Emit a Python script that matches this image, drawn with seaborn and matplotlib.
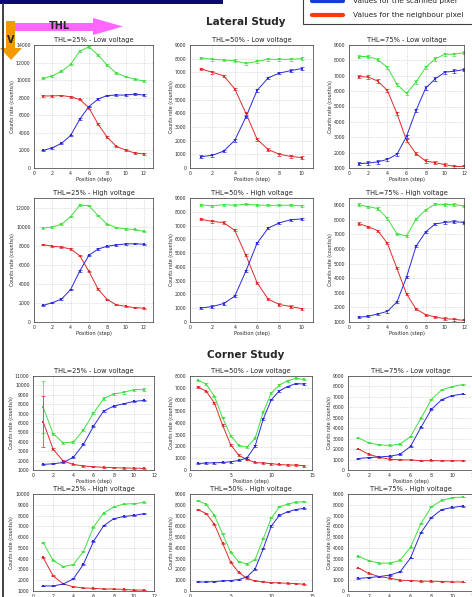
import numpy as np
import pandas as pd
import matplotlib.pyplot as plt
import seaborn as sns
from matplotlib.patches import Polygon, Rectangle
from matplotlib.lines import Line2D

# ---- data (counts/s) ----
lat25_low_g = [10200, 10500, 11000, 11800, 13300, 13800, 12850, 11700, 10800, 10400, 10100, 9900]
lat25_low_r = [8200, 8200, 8250, 8100, 7800, 6850, 5000, 3500, 2450, 2050, 1700, 1600]
lat25_low_b = [2000, 2300, 2800, 3700, 5550, 7000, 7850, 8250, 8300, 8300, 8400, 8300]

lat50_low_g = [8050, 7950, 7900, 7850, 7650, 7800, 7950, 7950, 7950, 8000]
lat50_low_r = [7250, 7000, 6750, 5800, 4000, 2100, 1350, 1000, 850, 760]
lat50_low_b = [830, 930, 1230, 2020, 3730, 5680, 6600, 6950, 7120, 7280]

lat75_low_g = [8250, 8250, 8050, 7550, 6450, 5850, 6600, 7550, 8100, 8400, 8400, 8500]
lat75_low_r = [6950, 6920, 6650, 6050, 4550, 2800, 1930, 1450, 1350, 1220, 1100, 1100]
lat75_low_b = [1280, 1320, 1400, 1560, 1890, 3050, 4750, 6200, 6800, 7230, 7300, 7400]

lat25_high_g = [9850, 9950, 10250, 11050, 12250, 12200, 11150, 10250, 9900, 9750, 9700, 9500]
lat25_high_r = [8100, 7950, 7850, 7650, 6950, 5300, 3450, 2350, 1800, 1650, 1500, 1450]
lat25_high_b = [1750, 2020, 2400, 3400, 5350, 7000, 7650, 7950, 8080, 8180, 8200, 8150]

lat50_high_g = [8500, 8420, 8520, 8470, 8550, 8480, 8470, 8470, 8480, 8430]
lat50_high_r = [7450, 7300, 7220, 6650, 4850, 2850, 1650, 1270, 1120, 970]
lat50_high_b = [1020, 1120, 1340, 1870, 3700, 5720, 6820, 7200, 7420, 7480]

lat75_high_g = [9050, 8900, 8780, 8100, 7050, 6900, 8050, 8680, 9080, 9050, 9050, 8950]
lat75_high_r = [7750, 7530, 7260, 6400, 4680, 2920, 1890, 1500, 1340, 1230, 1180, 1110]
lat75_high_b = [1320, 1390, 1550, 1730, 2370, 4070, 6200, 7180, 7720, 7830, 7880, 7820]

cor25_low_g = [7700, 4850, 3900, 3950, 5250, 7050, 8600, 9100, 9250, 9550, 9550]
cor25_low_r = [6150, 3200, 1950, 1600, 1420, 1350, 1280, 1250, 1210, 1200, 1170]
cor25_low_b = [1600, 1660, 1800, 2350, 3720, 5650, 7270, 7800, 8050, 8300, 8400]
cor25_low_err_g = [2800, 120, 120, 120, 120, 120, 120, 120, 120, 120, 150]
cor25_low_err_r = [2700, 100, 80, 60, 60, 60, 60, 60, 60, 60, 60]

cor50_low_g = [7630, 7300, 6270, 4460, 2920, 2090, 1950, 2700, 4930, 6550, 7240, 7600, 7800, 7710]
cor50_low_r = [7080, 6690, 5710, 3820, 2150, 1250, 890, 640, 590, 530, 470, 420, 420, 360]
cor50_low_b = [560, 590, 610, 640, 700, 810, 1030, 2030, 4320, 5990, 6740, 7100, 7350, 7320]

cor75_low_g = [3070, 2600, 2410, 2350, 2480, 3200, 4950, 6740, 7680, 7990, 8180]
cor75_low_r = [2010, 1500, 1220, 1030, 970, 970, 880, 910, 880, 880, 880]
cor75_low_b = [1100, 1190, 1250, 1320, 1500, 2260, 4080, 5800, 6740, 7120, 7270]

cor25_high_g = [5500, 3830, 3270, 3450, 4660, 6930, 8230, 8790, 9070, 9100, 9220]
cor25_high_r = [4110, 2400, 1650, 1400, 1280, 1250, 1190, 1190, 1150, 1090, 1090]
cor25_high_b = [1470, 1470, 1650, 2120, 3480, 5600, 7050, 7700, 7920, 8010, 8170]

cor50_high_g = [8380, 8030, 7030, 5310, 3590, 2720, 2500, 2910, 4840, 6780, 7810, 8060, 8250, 8280]
cor50_high_r = [7530, 7190, 6190, 4440, 2660, 1720, 1160, 940, 840, 780, 750, 720, 690, 620]
cor50_high_b = [840, 840, 870, 940, 970, 1060, 1310, 2030, 3910, 6030, 7030, 7340, 7560, 7660]

cor75_high_g = [3220, 2810, 2590, 2590, 2840, 4060, 6250, 7810, 8410, 8660, 8720]
cor75_high_r = [2130, 1630, 1340, 1190, 1000, 970, 910, 910, 880, 840, 840]
cor75_high_b = [1160, 1250, 1340, 1470, 1780, 3060, 5410, 6810, 7560, 7750, 7880]

GREEN = '#3fe03f'
RED = '#e02a2a'
BLUE = '#2a2ad8'
W, H = 472, 597

sns.set_style("whitegrid", {"grid.linestyle": ":", "grid.color": "#b0b0b0",
                            "axes.edgecolor": "#333333"})
plt.rcParams['font.family'] = ['DejaVu Sans']

fig = plt.figure(figsize=(W / 100, H / 100), dpi=100)


def px_axes(x0, y0, x1, y1):
    return fig.add_axes([x0 / W, 1 - y1 / H, (x1 - x0) / W, (y1 - y0) / H])


def panel(rect, title, g, r, b, xlim, xticks, ylim, yticks, err=60, err_g=None, err_r=None):
    ax = px_axes(*rect)
    n = len(g)
    pos = np.arange(1, n + 1)
    df = pd.DataFrame({'pos': np.tile(pos, 3),
                       'rate': list(g) + list(r) + list(b),
                       'series': ['sum'] * n + ['neighbour'] * n + ['scanned'] * n})
    pal = {'sum': GREEN, 'neighbour': RED, 'scanned': BLUE}
    sns.lineplot(data=df, x='pos', y='rate', hue='series', palette=pal, ax=ax,
                 legend=False, linewidth=0.7, marker='s', markersize=1.6,
                 markeredgewidth=0)
    eg = err if err_g is None else err_g
    er = err if err_r is None else err_r
    for ys, c, e in [(g, GREEN, eg), (r, RED, er), (b, BLUE, err)]:
        ax.errorbar(pos, ys, yerr=e, fmt='none', ecolor=c, elinewidth=0.5,
                    capsize=1.2, capthick=0.5)
    ax.set_xlim(*xlim)
    ax.set_ylim(*ylim)
    ax.set_xticks(xticks)
    ax.set_yticks(yticks)
    ax.tick_params(labelsize=3.3, length=1.5, pad=1, width=0.4)
    ax.grid(True, linewidth=0.4)
    for s in ax.spines.values():
        s.set_linewidth(0.5)
    ax.set_title(title, fontsize=4.8, pad=2)
    ax.set_xlabel('Position (step)', fontsize=3.6, labelpad=0.5)
    ax.set_ylabel('Counts rate (counts/s)', fontsize=3.4, labelpad=1)
    return ax


# lateral study
r1, r2 = (45, 168), (198, 322)
r3, r4 = (376, 470), (494, 591)
t12 = np.arange(0, 13, 2)
t10 = np.arange(0, 11, 2)

panel((34, r1[0], 153, r1[1]), 'THL=25% - Low voltage', lat25_low_g, lat25_low_r, lat25_low_b,
      (0, 13), t12, (0, 14000), np.arange(0, 14001, 2000), err=90)
panel((190, r1[0], 313, r1[1]), 'THL=50% - Low voltage', lat50_low_g, lat50_low_r, lat50_low_b,
      (0, 11), t10, (0, 9000), np.arange(0, 9001, 1000), err=90)
panel((349, r1[0], 464, r1[1]), 'THL=75% - Low voltage', lat75_low_g, lat75_low_r, lat75_low_b,
      (0, 12), t12, (1000, 9000), np.arange(1000, 9001, 1000), err=110)

panel((34, r2[0], 153, r2[1]), 'THL=25% - High voltage', lat25_high_g, lat25_high_r, lat25_high_b,
      (0, 13), t12, (0, 13000), np.arange(0, 12001, 2000), err=70)
panel((190, r2[0], 313, r2[1]), 'THL=50% - High voltage', lat50_high_g, lat50_high_r, lat50_high_b,
      (0, 11), t10, (0, 9000), np.arange(0, 9001, 1000), err=80)
panel((349, r2[0], 464, r2[1]), 'THL=75% - High voltage', lat75_high_g, lat75_high_r, lat75_high_b,
      (0, 12), t12, (1000, 9500), np.arange(1000, 9001, 1000), err=80)

# corner study
panel((33, r3[0], 154, r3[1]), 'THL=25% - Low voltage', cor25_low_g, cor25_low_r, cor25_low_b,
      (0, 12), t12, (1000, 11000), np.arange(1000, 11001, 1000), err=60,
      err_g=cor25_low_err_g, err_r=cor25_low_err_r)
panel((190, r3[0], 312, r3[1]), 'THL=50% - Low voltage', cor50_low_g, cor50_low_r, cor50_low_b,
      (0, 15), [0, 5, 10, 15], (0, 8000), np.arange(0, 8001, 1000), err=70)
panel((348, r3[0], 473, r3[1]), 'THL=75% - Low voltage', cor75_low_g, cor75_low_r, cor75_low_b,
      (0, 12), t12, (0, 9000), np.arange(0, 9001, 1000), err=40)

panel((33, r4[0], 154, r4[1]), 'THL=25% - High voltage', cor25_high_g, cor25_high_r, cor25_high_b,
      (0, 12), t12, (1000, 10000), np.arange(1000, 10001, 1000), err=40)
panel((190, r4[0], 312, r4[1]), 'THL=50% - High voltage', cor50_high_g, cor50_high_r, cor50_high_b,
      (0, 15), [0, 5, 10, 15], (0, 9000), np.arange(0, 9001, 1000), err=50)
panel((348, r4[0], 473, r4[1]), 'THL=75% - High voltage', cor75_high_g, cor75_high_r, cor75_high_b,
      (0, 12), t12, (0, 9000), np.arange(0, 9001, 1000), err=40)


# ---- decorations in pixel coordinates ----
def fxy(x, y):
    return (x / W, 1 - y / H)


fig.text(*fxy(246, 22), 'Lateral Study', fontsize=7.5, fontweight='bold', ha='center', va='center')
fig.text(*fxy(246, 355), 'Corner Study', fontsize=7.5, fontweight='bold', ha='center', va='center')

# header bar and frame
fig.patches.append(Rectangle(fxy(0, 4), 223 / W, 4 / H, transform=fig.transFigure,
                             facecolor='#0a0a70', edgecolor='none'))
fig.lines.append(Line2D([3 / W, 3 / W], [1 - 4 / H, 0], transform=fig.transFigure,
                        color='#404040', linewidth=1.4))

# legend box
fig.patches.append(Rectangle(fxy(303, 24), 175 / W, 30 / H, transform=fig.transFigure,
                             facecolor='white', edgecolor='#404040', linewidth=0.8))
for yy, c, lab in [(1, '#1040d0', 'Values for the scanned pixel'),
                   (15, '#ff3a00', 'Values for the neighbour pixel')]:
    fig.lines.append(Line2D([312 / W, 343 / W], [1 - yy / H] * 2, transform=fig.transFigure,
                            color=c, linewidth=3))
    fig.text(*fxy(353, yy), lab, fontsize=5.3, va='center', ha='left', color='#222222')

# THL arrow (pink, horizontal)
pink = [(15, 23), (93, 23), (93, 18), (123, 26.5), (93, 35), (93, 31), (15, 31)]
fig.patches.append(Polygon([fxy(*p) for p in pink], closed=True, transform=fig.transFigure,
                           facecolor='#ff66ff', edgecolor='none'))
fig.text(*fxy(59, 26), 'THL', fontsize=7, fontweight='bold', ha='center', va='center')

# V arrow (orange, vertical)
orange = [(6, 21), (15, 21), (15, 48), (22, 48), (11, 60), (0, 48), (6, 48)]
fig.patches.append(Polygon([fxy(*p) for p in orange], closed=True, transform=fig.transFigure,
                           facecolor='#f39a00', edgecolor='none'))
fig.text(*fxy(11, 40), 'V', fontsize=7, fontweight='bold', ha='center', va='center')

fig.savefig('out.png', dpi=100)
